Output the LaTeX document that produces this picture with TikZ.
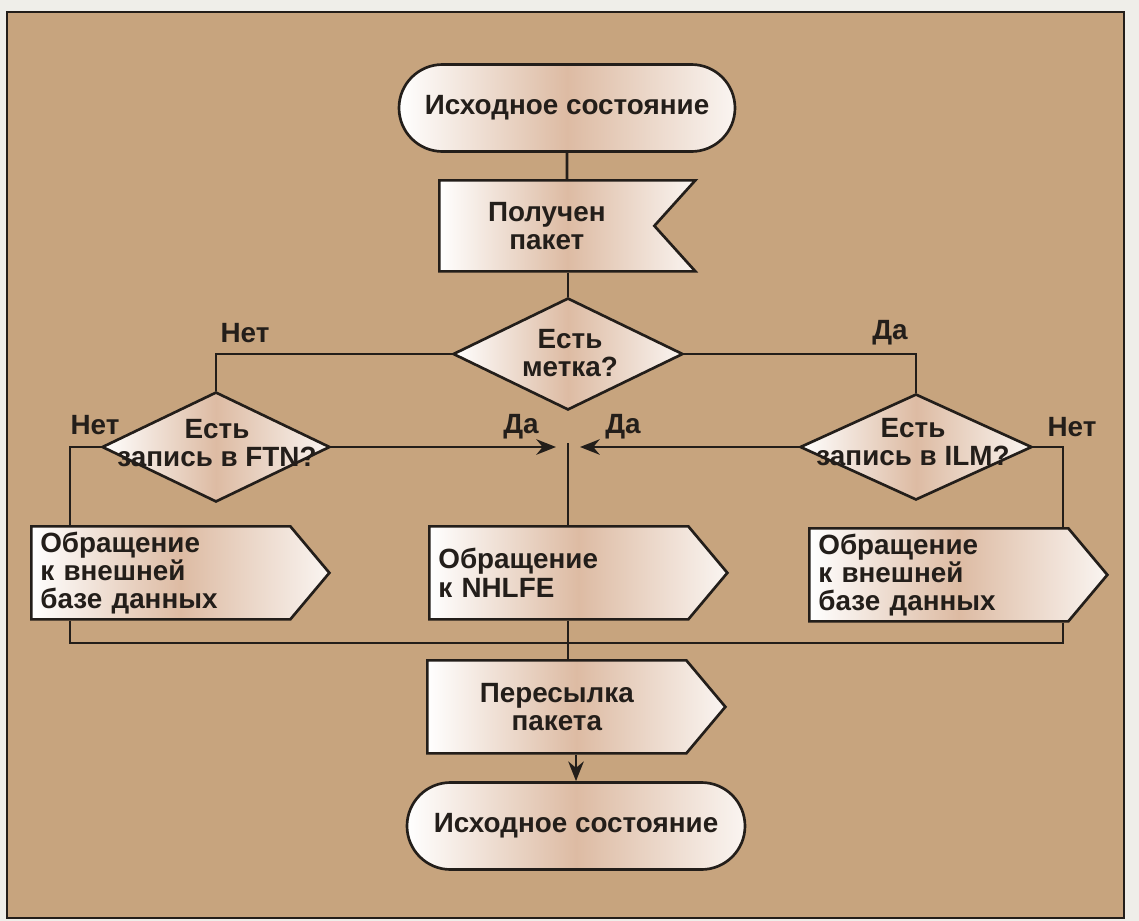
\documentclass[tikz,border=0pt]{standalone}
\usepackage{fontspec}
\setmainfont{Liberation Sans}
\usetikzlibrary{shapes.geometric,shapes.misc,shapes.symbols,arrows.meta}
\definecolor{pagewhite}{HTML}{EFEEE9}
\definecolor{tanback}{HTML}{C7A47E}
\definecolor{inkline}{HTML}{231E1A}
\definecolor{shadebrown}{HTML}{DDBBA3}
\newcommand{\px}{0.025cm}
\newcommand{\flowFont}{\fontsize{19.8}{20}\selectfont\bfseries}

\tikzset{
  shapefill/.style={left color=white, right color=white!85!shadebrown, middle color=shadebrown},
  outline/.style={draw=inkline, line width=1.9pt, shapefill},
  terminal/.style={rounded rectangle, outline, inner sep=0pt,
    minimum width=336*\px, minimum height=87*\px, font=\flowFont, text=inkline},
  received/.style={signal, signal to=nothing, signal from=east, signal pointer angle=96, outline,
    minimum width=256*\px, minimum height=91*\px, font=\flowFont, text=inkline, align=center},
  process/.style={signal, signal to=east, signal pointer angle=100, outline,
    minimum width=298*\px, minimum height=93*\px, font=\flowFont, text=inkline,
    align=left, text width=241*\px, inner xsep=9*\px},
  question/.style={diamond, outline, inner sep=0pt},
  qtext/.style={font=\flowFont, text=inkline, align=center, inner sep=0pt},
  answer/.style={font=\flowFont, text=inkline, inner sep=0pt},
  link/.style={draw=inkline, line width=1.9pt},
  arr/.style={link, -{Stealth[length=14pt,width=11pt]}}
}

\begin{document}
\begin{tikzpicture}[x=\px, y=-\px]
	\useasboundingbox (0,0) rectangle (1139,921);
	\fill[pagewhite] (0,0) rectangle (1139,921);
	\draw[fill=tanback, draw=inkline, line width=1.6pt] (7,12) rectangle (1124,918);

	% start and received packet
	\node[terminal] (start) at (567,108) {Исходное состояние};
	\node[received, anchor=north west] (rcv) at (438,179) {Получен\\пакет};

	% label check
	\node[question, minimum width=230*\px, minimum height=112*\px] (lbl) at (568,354) {};
	\node[qtext] (lbltext) at (570,353) {Есть\\метка?};
	\node[question, minimum width=228*\px, minimum height=110*\px] (ftn) at (216,447) {};
	\node[qtext] (ftntext) at (217,443) {Есть\\запись в FTN?};
	\node[question, minimum width=232*\px, minimum height=106*\px] (ilm) at (916,447) {};
	\node[qtext] (ilmtext) at (913,442) {Есть\\запись в ILM?};

	\node[answer] (noLbl) at (245,333) {Нет};
	\node[answer] (yesLbl) at (890,333) {Да};
	\node[answer] (noFtn) at (95,425) {Нет};
	\node[answer] (yesFtn) at (521,427) {Да};
	\node[answer] (yesIlm) at (623,427) {Да};
	\node[answer] (noIlm) at (1072,427) {Нет};

	% lookups
	\node[process, anchor=north west] (extl) at (30,525) {Обращение\\к внешней\\базе данных};
	\node[process, anchor=north west] (nh) at (428,525) {Обращение\\к NHLFE};
	\node[process, anchor=north west] (extr) at (808,527) {Обращение\\к внешней\\базе данных};

	% forward and stop
	\node[process, anchor=north west, align=center] (fwd) at (426,659) {Пересылка\\пакета};
	\node[terminal, minimum width=338*\px] (stop) at (576,826) {Исходное состояние};

	\coordinate (jl) at (70,643);
	\coordinate (jr) at (1063,643);
	\coordinate (jt) at (568,443);
	\coordinate (tipl) at (556,447);
	\coordinate (tipr) at (580,447);

	\draw[link] (start) -- (start |- rcv.north);
	\draw[link] (rcv.south -| lbl) -- (lbl.north);
	\draw[link] (lbl.west) -| (ftn.north);
	\draw[link] (lbl.east) -| (ilm.north);
	\draw[link] (ftn.west) -| (extl.north -| jl);
	\draw[link] (ilm.east) -| (extr.north -| jr);
	\draw[arr] (ftn.east) -- (tipl);
	\draw[arr] (ilm.west) -- (tipr);
	\draw[link] (jt) -- (nh.north -| jt);
	\draw[link] (extl.south -| jl) -- (jl) -- (jr) -- (extr.south -| jr);
	\draw[link] (nh.south -| jt) -- (fwd.north -| jt);
	\draw[arr] (fwd.south -| stop) -- (stop.north);
\end{tikzpicture}
\end{document}
